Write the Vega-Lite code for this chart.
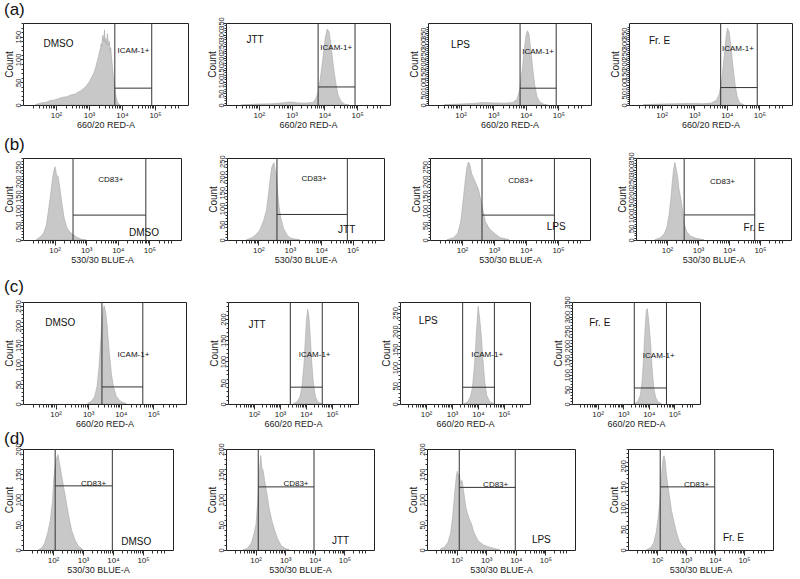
{
"$schema":"https://vega.github.io/schema/vega-lite/v6.json",
"background":"white",
"padding":{"left":3,"top":0,"right":0,"bottom":0},
"spacing":12,
"datasets":{
"hist":[
{"p":"a1","x":24,"c":1},{"p":"a1","x":30,"c":3},{"p":"a1","x":38,"c":5},{"p":"a1","x":50,"c":6},{"p":"a1","x":68,"c":10},{"p":"a1","x":90,"c":11},{"p":"a1","x":121,"c":14},{"p":"a1","x":160,"c":17},{"p":"a1","x":215,"c":18},{"p":"a1","x":280,"c":22},{"p":"a1","x":380,"c":24},{"p":"a1","x":460,"c":28},{"p":"a1","x":557,"c":31},{"p":"a1","x":680,"c":36},{"p":"a1","x":817,"c":41},{"p":"a1","x":1000,"c":50},{"p":"a1","x":1195,"c":61},{"p":"a1","x":1400,"c":70},{"p":"a1","x":1590,"c":82},{"p":"a1","x":1760,"c":95},{"p":"a1","x":1930,"c":106},{"p":"a1","x":2100,"c":118},{"p":"a1","x":2250,"c":126},{"p":"a1","x":2340,"c":135},{"p":"a1","x":2450,"c":128},{"p":"a1","x":2560,"c":150},{"p":"a1","x":2670,"c":153},{"p":"a1","x":2800,"c":140},{"p":"a1","x":2940,"c":165},{"p":"a1","x":3100,"c":138},{"p":"a1","x":3240,"c":146},{"p":"a1","x":3400,"c":132},{"p":"a1","x":3630,"c":157},{"p":"a1","x":3900,"c":130},{"p":"a1","x":4140,"c":140},{"p":"a1","x":4350,"c":118},{"p":"a1","x":4570,"c":126},{"p":"a1","x":4800,"c":105},{"p":"a1","x":5030,"c":92},{"p":"a1","x":5400,"c":68},{"p":"a1","x":5760,"c":51},{"p":"a1","x":6200,"c":30},{"p":"a1","x":6650,"c":17},{"p":"a1","x":7200,"c":8},{"p":"a1","x":7770,"c":3},{"p":"a1","x":8870,"c":0},
{"p":"a2","x":29,"c":0},{"p":"a2","x":91,"c":4},{"p":"a2","x":237,"c":5},{"p":"a2","x":511,"c":9},{"p":"a2","x":908,"c":13},{"p":"a2","x":1615,"c":9},{"p":"a2","x":2870,"c":8},{"p":"a2","x":4640,"c":12},{"p":"a2","x":5620,"c":30},{"p":"a2","x":6430,"c":57},{"p":"a2","x":7500,"c":111},{"p":"a2","x":9090,"c":205},{"p":"a2","x":10600,"c":286},{"p":"a2","x":12100,"c":324},{"p":"a2","x":13900,"c":313},{"p":"a2","x":16200,"c":246},{"p":"a2","x":18800,"c":165},{"p":"a2","x":22000,"c":97},{"p":"a2","x":26100,"c":43},{"p":"a2","x":31600,"c":16},{"p":"a2","x":42200,"c":3},{"p":"a2","x":56200,"c":0},
{"p":"a3","x":32,"c":1.5},{"p":"a3","x":91,"c":4.5},{"p":"a3","x":234,"c":7.5},{"p":"a3","x":500,"c":12},{"p":"a3","x":1060,"c":10},{"p":"a3","x":2270,"c":9},{"p":"a3","x":3980,"c":12},{"p":"a3","x":5320,"c":27},{"p":"a3","x":6430,"c":72},{"p":"a3","x":7770,"c":170},{"p":"a3","x":9040,"c":275},{"p":"a3","x":10300,"c":345},{"p":"a3","x":11300,"c":362},{"p":"a3","x":12500,"c":345},{"p":"a3","x":14500,"c":260},{"p":"a3","x":16500,"c":170},{"p":"a3","x":18900,"c":95},{"p":"a3","x":22000,"c":42},{"p":"a3","x":26500,"c":16},{"p":"a3","x":35200,"c":4},{"p":"a3","x":46800,"c":0},
{"p":"a4","x":28,"c":1.5},{"p":"a4","x":87,"c":4.6},{"p":"a4","x":276,"c":6.2},{"p":"a4","x":870,"c":7.8},{"p":"a4","x":1870,"c":6.2},{"p":"a4","x":3310,"c":9.3},{"p":"a4","x":4860,"c":23},{"p":"a4","x":5890,"c":54},{"p":"a4","x":7140,"c":132},{"p":"a4","x":8320,"c":240},{"p":"a4","x":9510,"c":333},{"p":"a4","x":10470,"c":375},{"p":"a4","x":11740,"c":357},{"p":"a4","x":13400,"c":287},{"p":"a4","x":15300,"c":194},{"p":"a4","x":17900,"c":101},{"p":"a4","x":20900,"c":39},{"p":"a4","x":24800,"c":11},{"p":"a4","x":33000,"c":1.5},
{"p":"b1","x":27,"c":2},{"p":"b1","x":37,"c":13},{"p":"b1","x":45,"c":24},{"p":"b1","x":55,"c":51},{"p":"b1","x":63,"c":96},{"p":"b1","x":74,"c":151},{"p":"b1","x":85,"c":206},{"p":"b1","x":96,"c":240},{"p":"b1","x":104,"c":250},{"p":"b1","x":115,"c":222},{"p":"b1","x":130,"c":216},{"p":"b1","x":149,"c":172},{"p":"b1","x":172,"c":122},{"p":"b1","x":201,"c":74},{"p":"b1","x":246,"c":41},{"p":"b1","x":300,"c":27},{"p":"b1","x":383,"c":19},{"p":"b1","x":496,"c":10},{"p":"b1","x":670,"c":3},{"p":"b1","x":1000,"c":0},
{"p":"b2","x":42,"c":1},{"p":"b2","x":62,"c":7},{"p":"b2","x":82,"c":16},{"p":"b2","x":110,"c":31},{"p":"b2","x":147,"c":62},{"p":"b2","x":180,"c":94},{"p":"b2","x":210,"c":146},{"p":"b2","x":240,"c":198},{"p":"b2","x":265,"c":229},{"p":"b2","x":292,"c":240},{"p":"b2","x":315,"c":245},{"p":"b2","x":340,"c":224},{"p":"b2","x":376,"c":203},{"p":"b2","x":414,"c":146},{"p":"b2","x":457,"c":104},{"p":"b2","x":523,"c":68},{"p":"b2","x":636,"c":36},{"p":"b2","x":850,"c":13},{"p":"b2","x":1140,"c":5},{"p":"b2","x":2040,"c":1},
{"p":"b3","x":34,"c":1},{"p":"b3","x":55,"c":8},{"p":"b3","x":74,"c":24},{"p":"b3","x":91,"c":62},{"p":"b3","x":110,"c":140},{"p":"b3","x":127,"c":205},{"p":"b3","x":143,"c":250},{"p":"b3","x":157,"c":266},{"p":"b3","x":174,"c":260},{"p":"b3","x":199,"c":227},{"p":"b3","x":243,"c":206},{"p":"b3","x":327,"c":173},{"p":"b3","x":422,"c":118},{"p":"b3","x":535,"c":63},{"p":"b3","x":720,"c":38},{"p":"b3","x":1070,"c":21},{"p":"b3","x":1590,"c":8},{"p":"b3","x":2870,"c":2},
{"p":"b4","x":41,"c":1.4},{"p":"b4","x":61,"c":10},{"p":"b4","x":82,"c":27},{"p":"b4","x":100,"c":55},{"p":"b4","x":117,"c":109},{"p":"b4","x":134,"c":178},{"p":"b4","x":148,"c":246},{"p":"b4","x":163,"c":301},{"p":"b4","x":180,"c":331},{"p":"b4","x":199,"c":301},{"p":"b4","x":219,"c":273},{"p":"b4","x":242,"c":219},{"p":"b4","x":278,"c":178},{"p":"b4","x":312,"c":137},{"p":"b4","x":358,"c":68},{"p":"b4","x":436,"c":34},{"p":"b4","x":585,"c":16},{"p":"b4","x":867,"c":7},{"p":"b4","x":1560,"c":1.4},
{"p":"c1","x":956,"c":1},{"p":"c1","x":1300,"c":8},{"p":"c1","x":1590,"c":20},{"p":"c1","x":1870,"c":45},{"p":"c1","x":2150,"c":94},{"p":"c1","x":2380,"c":152},{"p":"c1","x":2640,"c":205},{"p":"c1","x":2860,"c":238},{"p":"c1","x":3100,"c":250},{"p":"c1","x":3430,"c":234},{"p":"c1","x":3790,"c":201},{"p":"c1","x":4370,"c":135},{"p":"c1","x":5140,"c":78},{"p":"c1","x":5910,"c":45},{"p":"c1","x":7240,"c":20},{"p":"c1","x":9780,"c":6.5},{"p":"c1","x":14700,"c":1},
{"p":"c2","x":3340,"c":1},{"p":"c2","x":4700,"c":6},{"p":"c2","x":5890,"c":17.5},{"p":"c2","x":7070,"c":44},{"p":"c2","x":8270,"c":90},{"p":"c2","x":9260,"c":143},{"p":"c2","x":10380,"c":196},{"p":"c2","x":11620,"c":223},{"p":"c2","x":13000,"c":204},{"p":"c2","x":14570,"c":158},{"p":"c2","x":16310,"c":105},{"p":"c2","x":19070,"c":52},{"p":"c2","x":22900,"c":17.5},{"p":"c2","x":28700,"c":4.6},{"p":"c2","x":40400,"c":1},
{"p":"c3","x":2880,"c":1},{"p":"c3","x":4060,"c":6},{"p":"c3","x":5110,"c":20},{"p":"c3","x":6130,"c":46},{"p":"c3","x":7190,"c":100},{"p":"c3","x":8070,"c":154},{"p":"c3","x":9040,"c":216},{"p":"c3","x":10140,"c":268},{"p":"c3","x":11640,"c":234},{"p":"c3","x":13350,"c":189},{"p":"c3","x":15300,"c":127},{"p":"c3","x":17960,"c":64},{"p":"c3","x":21600,"c":24},{"p":"c3","x":28400,"c":6},{"p":"c3","x":40000,"c":1},
{"p":"c4","x":2580,"c":1},{"p":"c4","x":3680,"c":8},{"p":"c4","x":4660,"c":30},{"p":"c4","x":5500,"c":79},{"p":"c4","x":6330,"c":167},{"p":"c4","x":7120,"c":255},{"p":"c4","x":8010,"c":321},{"p":"c4","x":8800,"c":327},{"p":"c4","x":10140,"c":277},{"p":"c4","x":11690,"c":211},{"p":"c4","x":13460,"c":123},{"p":"c4","x":15500,"c":57},{"p":"c4","x":18300,"c":24},{"p":"c4","x":22600,"c":8},{"p":"c4","x":30700,"c":1},
{"p":"d1","x":33,"c":0.6},{"p":"d1","x":43,"c":4.4},{"p":"d1","x":53,"c":14},{"p":"d1","x":66,"c":33},{"p":"d1","x":81,"c":58},{"p":"d1","x":96,"c":96},{"p":"d1","x":106,"c":140},{"p":"d1","x":118,"c":166},{"p":"d1","x":132,"c":182},{"p":"d1","x":146,"c":189},{"p":"d1","x":162,"c":175},{"p":"d1","x":188,"c":152},{"p":"d1","x":223,"c":127},{"p":"d1","x":275,"c":96},{"p":"d1","x":339,"c":65},{"p":"d1","x":418,"c":39},{"p":"d1","x":539,"c":20},{"p":"d1","x":709,"c":7.6},{"p":"d1","x":973,"c":1.3},
{"p":"d2","x":39,"c":0.6},{"p":"d2","x":53,"c":3},{"p":"d2","x":73,"c":15},{"p":"d2","x":90,"c":34},{"p":"d2","x":104,"c":52},{"p":"d2","x":118,"c":96},{"p":"d2","x":129,"c":139},{"p":"d2","x":140,"c":170},{"p":"d2","x":149,"c":187},{"p":"d2","x":162,"c":164},{"p":"d2","x":180,"c":157},{"p":"d2","x":208,"c":133},{"p":"d2","x":246,"c":108},{"p":"d2","x":285,"c":83},{"p":"d2","x":351,"c":59},{"p":"d2","x":433,"c":40},{"p":"d2","x":556,"c":22},{"p":"d2","x":730,"c":9},{"p":"d2","x":1000,"c":3},{"p":"d2","x":1370,"c":0.6},
{"p":"d3","x":28.5,"c":2},{"p":"d3","x":39,"c":6},{"p":"d3","x":51,"c":15},{"p":"d3","x":63,"c":34},{"p":"d3","x":73,"c":64},{"p":"d3","x":81,"c":95},{"p":"d3","x":90,"c":125},{"p":"d3","x":100,"c":150},{"p":"d3","x":106,"c":156},{"p":"d3","x":116,"c":144},{"p":"d3","x":123,"c":150},{"p":"d3","x":137,"c":132},{"p":"d3","x":152,"c":138},{"p":"d3","x":176,"c":113},{"p":"d3","x":208,"c":83},{"p":"d3","x":257,"c":64},{"p":"d3","x":316,"c":52},{"p":"d3","x":390,"c":34},{"p":"d3","x":534,"c":18},{"p":"d3","x":811,"c":10},{"p":"d3","x":1230,"c":6},{"p":"d3","x":1870,"c":3},{"p":"d3","x":2850,"c":0.6},
{"p":"d4","x":43,"c":0.7},{"p":"d4","x":59,"c":5},{"p":"d4","x":76,"c":16},{"p":"d4","x":94,"c":42},{"p":"d4","x":111,"c":79},{"p":"d4","x":126,"c":116},{"p":"d4","x":137,"c":161},{"p":"d4","x":152,"c":199},{"p":"d4","x":165,"c":221},{"p":"d4","x":176,"c":224},{"p":"d4","x":191,"c":212},{"p":"d4","x":208,"c":183},{"p":"d4","x":236,"c":153},{"p":"d4","x":273,"c":124},{"p":"d4","x":316,"c":94},{"p":"d4","x":390,"c":65},{"p":"d4","x":480,"c":39},{"p":"d4","x":593,"c":20},{"p":"d4","x":762,"c":7},{"p":"d4","x":1000,"c":1.5}
],
"gates":[
{"p":"a1","x1":6060,"x2":79700,"gy":37,"gl":"ICAM-1+","gx":7350,"gly":119,"s":"DMSO","sx":42,"sy":134},
{"p":"a2","x1":6430,"x2":85800,"gy":77,"gl":"ICAM-1+","gx":7500,"gly":242,"s":"JTT","sx":42,"sy":276},
{"p":"a3","x1":6670,"x2":85700,"gy":82,"gl":"ICAM-1+","gx":7770,"gly":260,"s":"LPS","sx":51,"sy":292},
{"p":"a4","x1":6490,"x2":85900,"gy":85,"gl":"ICAM-1+","gx":7140,"gly":271,"s":"Fr. E","sx":41,"sy":310},
{"p":"b1","x1":383,"x2":77000,"gy":85,"gl":"CD83+","gx":6030,"gly":206,"s":"DMSO","sx":200000,"sy":24},
{"p":"b2","x1":390,"x2":68000,"gy":81,"gl":"CD83+","gx":5960,"gly":192,"s":"JTT","sx":122000,"sy":33},
{"p":"b3","x1":422,"x2":77300,"gy":85,"gl":"CD83+","gx":6900,"gly":200,"s":"LPS","sx":174000,"sy":43},
{"p":"b4","x1":358,"x2":67600,"gy":107,"gl":"CD83+","gx":6160,"gly":249,"s":"Fr. E","sx":142000,"sy":52},
{"p":"c1","x1":2640,"x2":47300,"gy":43.5,"gl":"ICAM-1+","gx":24500,"gly":125,"s":"DMSO","sx":48,"sy":207},
{"p":"c2","x1":2490,"x2":42200,"gy":39.6,"gl":"ICAM-1+","gx":21500,"gly":116,"s":"JTT","sx":61,"sy":185},
{"p":"c3","x1":2570,"x2":42700,"gy":46,"gl":"ICAM-1+","gx":22500,"gly":134,"s":"LPS","sx":53,"sy":227},
{"p":"c4","x1":2710,"x2":49000,"gy":55,"gl":"ICAM-1+","gx":24500,"gly":165,"s":"Fr. E","sx":47,"sy":279},
{"p":"d1","x1":118,"x2":9500,"gy":127,"gl":"CD83+","gx":2260,"gly":131,"s":"DMSO","sx":188000,"sy":15},
{"p":"d2","x1":123,"x2":9400,"gy":125,"gl":"CD83+","gx":2310,"gly":130,"s":"JTT","sx":145000,"sy":17},
{"p":"d3","x1":123,"x2":9600,"gy":124,"gl":"CD83+","gx":2090,"gly":128,"s":"LPS","sx":152000,"sy":20},
{"p":"d4","x1":129,"x2":9800,"gy":150,"gl":"CD83+","gx":2310,"gly":155,"s":"Fr. E","sx":100000,"sy":29}
]
},
"vconcat":[
{"spacing":5,"vconcat":[
{"spacing":38,"bounds":"flush","hconcat":[
{"width":165,"height":82,"title":"(a)","layer":[
{"data":{"name":"hist"},"transform":[{"filter":"datum.p==='a1'"}],"mark":{"type":"area","clip":true,"color":"#c8c8c8","stroke":"#a8a8a8","strokeWidth":0.6},"encoding":{"x":{"field":"x","type":"quantitative","scale":{"type":"log","domain":[25,300000]},"axis":{"title":"660/20 RED-A","tickCount":200,"values":[20,30,40,50,60,70,80,90,100,200,300,400,500,600,700,800,900,1000,2000,3000,4000,5000,6000,7000,8000,9000,10000,20000,30000,40000,50000,60000,70000,80000,90000,100000,200000,300000,400000,500000],"labelExpr":"datum.value==100?'10²':datum.value==1000?'10³':datum.value==10000?'10⁴':datum.value==100000?'10⁵':''","tickSize":{"condition":{"test":"indexof([100,1000,10000,100000],datum.value)>=0","value":5},"value":3}}},"y":{"field":"c","type":"quantitative","scale":{"domain":[0,167]},"axis":{"title":"Count","tickCount":200,"values":[0,10,20,30,40,50,60,70,80,90,100,110,120,130,140,150,160,170,180,190,200,210,220,230,240,250,260,270,280,290,300,310,320,330,340,350,360,370,380],"labelExpr":"datum.value%50===0?datum.label:''","tickSize":{"condition":{"test":"datum.value%50===0","value":3},"value":2}}}}},
{"data":{"name":"gates"},"transform":[{"filter":"datum.p==='a1'"}],"layer":[
{"mark":"rule","encoding":{"x":{"field":"x1","type":"quantitative"}}},
{"mark":"rule","encoding":{"x":{"field":"x2","type":"quantitative"}}},
{"mark":"rule","encoding":{"x":{"field":"x1","type":"quantitative"},"x2":{"field":"x2"},"y":{"field":"gy","type":"quantitative"}}},
{"mark":{"type":"text","align":"left","fontSize":8},"encoding":{"x":{"field":"gx","type":"quantitative"},"y":{"field":"gly","type":"quantitative"},"text":{"field":"gl"}}},
{"mark":{"type":"text","align":"left","fontSize":10},"encoding":{"x":{"field":"sx","type":"quantitative"},"y":{"field":"sy","type":"quantitative"},"text":{"field":"s"}}}
]}]},
{"width":164,"height":82,"layer":[
{"data":{"name":"hist"},"transform":[{"filter":"datum.p==='a2'"}],"mark":{"type":"area","clip":true,"color":"#c8c8c8","stroke":"#a8a8a8","strokeWidth":0.6},"encoding":{"x":{"field":"x","type":"quantitative","scale":{"type":"log","domain":[25,300000]},"axis":{"title":"660/20 RED-A","tickCount":200,"values":[20,30,40,50,60,70,80,90,100,200,300,400,500,600,700,800,900,1000,2000,3000,4000,5000,6000,7000,8000,9000,10000,20000,30000,40000,50000,60000,70000,80000,90000,100000,200000,300000,400000,500000],"labelExpr":"datum.value==100?'10²':datum.value==1000?'10³':datum.value==10000?'10⁴':datum.value==100000?'10⁵':''","tickSize":{"condition":{"test":"indexof([100,1000,10000,100000],datum.value)>=0","value":5},"value":3}}},"y":{"field":"c","type":"quantitative","scale":{"domain":[0,336]},"axis":{"title":"Count","tickCount":200,"values":[0,10,20,30,40,50,60,70,80,90,100,110,120,130,140,150,160,170,180,190,200,210,220,230,240,250,260,270,280,290,300,310,320,330,340,350,360,370,380],"labelExpr":"datum.value%50===0?datum.label:''","tickSize":{"condition":{"test":"datum.value%50===0","value":3},"value":2}}}}},
{"data":{"name":"gates"},"transform":[{"filter":"datum.p==='a2'"}],"layer":[
{"mark":"rule","encoding":{"x":{"field":"x1","type":"quantitative"}}},
{"mark":"rule","encoding":{"x":{"field":"x2","type":"quantitative"}}},
{"mark":"rule","encoding":{"x":{"field":"x1","type":"quantitative"},"x2":{"field":"x2"},"y":{"field":"gy","type":"quantitative"}}},
{"mark":{"type":"text","align":"left","fontSize":8},"encoding":{"x":{"field":"gx","type":"quantitative"},"y":{"field":"gly","type":"quantitative"},"text":{"field":"gl"}}},
{"mark":{"type":"text","align":"left","fontSize":10},"encoding":{"x":{"field":"sx","type":"quantitative"},"y":{"field":"sy","type":"quantitative"},"text":{"field":"s"}}}
]}]},
{"width":163,"height":82,"layer":[
{"data":{"name":"hist"},"transform":[{"filter":"datum.p==='a3'"}],"mark":{"type":"area","clip":true,"color":"#c8c8c8","stroke":"#a8a8a8","strokeWidth":0.6},"encoding":{"x":{"field":"x","type":"quantitative","scale":{"type":"log","domain":[25,300000]},"axis":{"title":"660/20 RED-A","tickCount":200,"values":[20,30,40,50,60,70,80,90,100,200,300,400,500,600,700,800,900,1000,2000,3000,4000,5000,6000,7000,8000,9000,10000,20000,30000,40000,50000,60000,70000,80000,90000,100000,200000,300000,400000,500000],"labelExpr":"datum.value==100?'10²':datum.value==1000?'10³':datum.value==10000?'10⁴':datum.value==100000?'10⁵':''","tickSize":{"condition":{"test":"indexof([100,1000,10000,100000],datum.value)>=0","value":5},"value":3}}},"y":{"field":"c","type":"quantitative","scale":{"domain":[0,368]},"axis":{"title":"Count","tickCount":200,"values":[0,10,20,30,40,50,60,70,80,90,100,110,120,130,140,150,160,170,180,190,200,210,220,230,240,250,260,270,280,290,300,310,320,330,340,350,360,370,380],"labelExpr":"datum.value%50===0?datum.label:''","tickSize":{"condition":{"test":"datum.value%50===0","value":3},"value":2}}}}},
{"data":{"name":"gates"},"transform":[{"filter":"datum.p==='a3'"}],"layer":[
{"mark":"rule","encoding":{"x":{"field":"x1","type":"quantitative"}}},
{"mark":"rule","encoding":{"x":{"field":"x2","type":"quantitative"}}},
{"mark":"rule","encoding":{"x":{"field":"x1","type":"quantitative"},"x2":{"field":"x2"},"y":{"field":"gy","type":"quantitative"}}},
{"mark":{"type":"text","align":"left","fontSize":8},"encoding":{"x":{"field":"gx","type":"quantitative"},"y":{"field":"gly","type":"quantitative"},"text":{"field":"gl"}}},
{"mark":{"type":"text","align":"left","fontSize":10},"encoding":{"x":{"field":"sx","type":"quantitative"},"y":{"field":"sy","type":"quantitative"},"text":{"field":"s"}}}
]}]},
{"width":163,"height":82,"layer":[
{"data":{"name":"hist"},"transform":[{"filter":"datum.p==='a4'"}],"mark":{"type":"area","clip":true,"color":"#c8c8c8","stroke":"#a8a8a8","strokeWidth":0.6},"encoding":{"x":{"field":"x","type":"quantitative","scale":{"type":"log","domain":[25,300000]},"axis":{"title":"660/20 RED-A","tickCount":200,"values":[20,30,40,50,60,70,80,90,100,200,300,400,500,600,700,800,900,1000,2000,3000,4000,5000,6000,7000,8000,9000,10000,20000,30000,40000,50000,60000,70000,80000,90000,100000,200000,300000,400000,500000],"labelExpr":"datum.value==100?'10²':datum.value==1000?'10³':datum.value==10000?'10⁴':datum.value==100000?'10⁵':''","tickSize":{"condition":{"test":"indexof([100,1000,10000,100000],datum.value)>=0","value":5},"value":3}}},"y":{"field":"c","type":"quantitative","scale":{"domain":[0,380]},"axis":{"title":"Count","tickCount":200,"values":[0,10,20,30,40,50,60,70,80,90,100,110,120,130,140,150,160,170,180,190,200,210,220,230,240,250,260,270,280,290,300,310,320,330,340,350,360,370,380],"labelExpr":"datum.value%50===0?datum.label:''","tickSize":{"condition":{"test":"datum.value%50===0","value":3},"value":2}}}}},
{"data":{"name":"gates"},"transform":[{"filter":"datum.p==='a4'"}],"layer":[
{"mark":"rule","encoding":{"x":{"field":"x1","type":"quantitative"}}},
{"mark":"rule","encoding":{"x":{"field":"x2","type":"quantitative"}}},
{"mark":"rule","encoding":{"x":{"field":"x1","type":"quantitative"},"x2":{"field":"x2"},"y":{"field":"gy","type":"quantitative"}}},
{"mark":{"type":"text","align":"left","fontSize":8},"encoding":{"x":{"field":"gx","type":"quantitative"},"y":{"field":"gly","type":"quantitative"},"text":{"field":"gl"}}},
{"mark":{"type":"text","align":"left","fontSize":10},"encoding":{"x":{"field":"sx","type":"quantitative"},"y":{"field":"sy","type":"quantitative"},"text":{"field":"s"}}}
]}]}
]},
{"spacing":46,"bounds":"flush","hconcat":[
{"width":158,"height":82,"title":"(b)","layer":[
{"data":{"name":"hist"},"transform":[{"filter":"datum.p==='b1'"}],"mark":{"type":"area","clip":true,"color":"#c8c8c8","stroke":"#a8a8a8","strokeWidth":0.6},"encoding":{"x":{"field":"x","type":"quantitative","scale":{"type":"log","domain":[26,262144]},"axis":{"title":"530/30 BLUE-A","tickCount":200,"values":[20,30,40,50,60,70,80,90,100,200,300,400,500,600,700,800,900,1000,2000,3000,4000,5000,6000,7000,8000,9000,10000,20000,30000,40000,50000,60000,70000,80000,90000,100000,200000,300000,400000,500000],"labelExpr":"datum.value==100?'10²':datum.value==1000?'10³':datum.value==10000?'10⁴':datum.value==100000?'10⁵':''","tickSize":{"condition":{"test":"indexof([100,1000,10000,100000],datum.value)>=0","value":5},"value":3}}},"y":{"field":"c","type":"quantitative","scale":{"domain":[0,270]},"axis":{"title":"Count","tickCount":200,"values":[0,10,20,30,40,50,60,70,80,90,100,110,120,130,140,150,160,170,180,190,200,210,220,230,240,250,260,270,280,290,300,310,320,330,340,350,360,370,380],"labelExpr":"datum.value%50===0?datum.label:''","tickSize":{"condition":{"test":"datum.value%50===0","value":3},"value":2}}}}},
{"data":{"name":"gates"},"transform":[{"filter":"datum.p==='b1'"}],"layer":[
{"mark":"rule","encoding":{"x":{"field":"x1","type":"quantitative"}}},
{"mark":"rule","encoding":{"x":{"field":"x2","type":"quantitative"}}},
{"mark":"rule","encoding":{"x":{"field":"x1","type":"quantitative"},"x2":{"field":"x2"},"y":{"field":"gy","type":"quantitative"}}},
{"mark":{"type":"text","align":"center","fontSize":8},"encoding":{"x":{"field":"gx","type":"quantitative"},"y":{"field":"gly","type":"quantitative"},"text":{"field":"gl"}}},
{"mark":{"type":"text","align":"right","fontSize":10},"encoding":{"x":{"field":"sx","type":"quantitative"},"y":{"field":"sy","type":"quantitative"},"text":{"field":"s"}}}
]}]},
{"width":157,"height":82,"layer":[
{"data":{"name":"hist"},"transform":[{"filter":"datum.p==='b2'"}],"mark":{"type":"area","clip":true,"color":"#c8c8c8","stroke":"#a8a8a8","strokeWidth":0.6},"encoding":{"x":{"field":"x","type":"quantitative","scale":{"type":"log","domain":[26,262144]},"axis":{"title":"530/30 BLUE-A","tickCount":200,"values":[20,30,40,50,60,70,80,90,100,200,300,400,500,600,700,800,900,1000,2000,3000,4000,5000,6000,7000,8000,9000,10000,20000,30000,40000,50000,60000,70000,80000,90000,100000,200000,300000,400000,500000],"labelExpr":"datum.value==100?'10²':datum.value==1000?'10³':datum.value==10000?'10⁴':datum.value==100000?'10⁵':''","tickSize":{"condition":{"test":"indexof([100,1000,10000,100000],datum.value)>=0","value":5},"value":3}}},"y":{"field":"c","type":"quantitative","scale":{"domain":[0,258]},"axis":{"title":"Count","tickCount":200,"values":[0,10,20,30,40,50,60,70,80,90,100,110,120,130,140,150,160,170,180,190,200,210,220,230,240,250,260,270,280,290,300,310,320,330,340,350,360,370,380],"labelExpr":"datum.value%50===0?datum.label:''","tickSize":{"condition":{"test":"datum.value%50===0","value":3},"value":2}}}}},
{"data":{"name":"gates"},"transform":[{"filter":"datum.p==='b2'"}],"layer":[
{"mark":"rule","encoding":{"x":{"field":"x1","type":"quantitative"}}},
{"mark":"rule","encoding":{"x":{"field":"x2","type":"quantitative"}}},
{"mark":"rule","encoding":{"x":{"field":"x1","type":"quantitative"},"x2":{"field":"x2"},"y":{"field":"gy","type":"quantitative"}}},
{"mark":{"type":"text","align":"center","fontSize":8},"encoding":{"x":{"field":"gx","type":"quantitative"},"y":{"field":"gly","type":"quantitative"},"text":{"field":"gl"}}},
{"mark":{"type":"text","align":"right","fontSize":10},"encoding":{"x":{"field":"sx","type":"quantitative"},"y":{"field":"sy","type":"quantitative"},"text":{"field":"s"}}}
]}]},
{"width":160,"height":82,"layer":[
{"data":{"name":"hist"},"transform":[{"filter":"datum.p==='b3'"}],"mark":{"type":"area","clip":true,"color":"#c8c8c8","stroke":"#a8a8a8","strokeWidth":0.6},"encoding":{"x":{"field":"x","type":"quantitative","scale":{"type":"log","domain":[26,262144]},"axis":{"title":"530/30 BLUE-A","tickCount":200,"values":[20,30,40,50,60,70,80,90,100,200,300,400,500,600,700,800,900,1000,2000,3000,4000,5000,6000,7000,8000,9000,10000,20000,30000,40000,50000,60000,70000,80000,90000,100000,200000,300000,400000,500000],"labelExpr":"datum.value==100?'10²':datum.value==1000?'10³':datum.value==10000?'10⁴':datum.value==100000?'10⁵':''","tickSize":{"condition":{"test":"indexof([100,1000,10000,100000],datum.value)>=0","value":5},"value":3}}},"y":{"field":"c","type":"quantitative","scale":{"domain":[0,270]},"axis":{"title":"Count","tickCount":200,"values":[0,10,20,30,40,50,60,70,80,90,100,110,120,130,140,150,160,170,180,190,200,210,220,230,240,250,260,270,280,290,300,310,320,330,340,350,360,370,380],"labelExpr":"datum.value%50===0?datum.label:''","tickSize":{"condition":{"test":"datum.value%50===0","value":3},"value":2}}}}},
{"data":{"name":"gates"},"transform":[{"filter":"datum.p==='b3'"}],"layer":[
{"mark":"rule","encoding":{"x":{"field":"x1","type":"quantitative"}}},
{"mark":"rule","encoding":{"x":{"field":"x2","type":"quantitative"}}},
{"mark":"rule","encoding":{"x":{"field":"x1","type":"quantitative"},"x2":{"field":"x2"},"y":{"field":"gy","type":"quantitative"}}},
{"mark":{"type":"text","align":"center","fontSize":8},"encoding":{"x":{"field":"gx","type":"quantitative"},"y":{"field":"gly","type":"quantitative"},"text":{"field":"gl"}}},
{"mark":{"type":"text","align":"right","fontSize":10},"encoding":{"x":{"field":"sx","type":"quantitative"},"y":{"field":"sy","type":"quantitative"},"text":{"field":"s"}}}
]}]},
{"width":155,"height":82,"layer":[
{"data":{"name":"hist"},"transform":[{"filter":"datum.p==='b4'"}],"mark":{"type":"area","clip":true,"color":"#c8c8c8","stroke":"#a8a8a8","strokeWidth":0.6},"encoding":{"x":{"field":"x","type":"quantitative","scale":{"type":"log","domain":[26,262144]},"axis":{"title":"530/30 BLUE-A","tickCount":200,"values":[20,30,40,50,60,70,80,90,100,200,300,400,500,600,700,800,900,1000,2000,3000,4000,5000,6000,7000,8000,9000,10000,20000,30000,40000,50000,60000,70000,80000,90000,100000,200000,300000,400000,500000],"labelExpr":"datum.value==100?'10²':datum.value==1000?'10³':datum.value==10000?'10⁴':datum.value==100000?'10⁵':''","tickSize":{"condition":{"test":"indexof([100,1000,10000,100000],datum.value)>=0","value":5},"value":3}}},"y":{"field":"c","type":"quantitative","scale":{"domain":[0,339]},"axis":{"title":"Count","tickCount":200,"values":[0,10,20,30,40,50,60,70,80,90,100,110,120,130,140,150,160,170,180,190,200,210,220,230,240,250,260,270,280,290,300,310,320,330,340,350,360,370,380],"labelExpr":"datum.value%50===0?datum.label:''","tickSize":{"condition":{"test":"datum.value%50===0","value":3},"value":2}}}}},
{"data":{"name":"gates"},"transform":[{"filter":"datum.p==='b4'"}],"layer":[
{"mark":"rule","encoding":{"x":{"field":"x1","type":"quantitative"}}},
{"mark":"rule","encoding":{"x":{"field":"x2","type":"quantitative"}}},
{"mark":"rule","encoding":{"x":{"field":"x1","type":"quantitative"},"x2":{"field":"x2"},"y":{"field":"gy","type":"quantitative"}}},
{"mark":{"type":"text","align":"center","fontSize":8},"encoding":{"x":{"field":"gx","type":"quantitative"},"y":{"field":"gly","type":"quantitative"},"text":{"field":"gl"}}},
{"mark":{"type":"text","align":"right","fontSize":10},"encoding":{"x":{"field":"sx","type":"quantitative"},"y":{"field":"sy","type":"quantitative"},"text":{"field":"s"}}}
]}]}
]}
]},
{"spacing":0,"vconcat":[
{"spacing":42,"bounds":"flush","hconcat":[
{"width":163,"height":102,"title":"(c)","layer":[
{"data":{"name":"hist"},"transform":[{"filter":"datum.p==='c1'"}],"mark":{"type":"area","clip":true,"color":"#c8c8c8","stroke":"#a8a8a8","strokeWidth":0.6},"encoding":{"x":{"field":"x","type":"quantitative","scale":{"type":"log","domain":[31,560000]},"axis":{"title":"660/20 RED-A","tickCount":200,"values":[20,30,40,50,60,70,80,90,100,200,300,400,500,600,700,800,900,1000,2000,3000,4000,5000,6000,7000,8000,9000,10000,20000,30000,40000,50000,60000,70000,80000,90000,100000,200000,300000,400000,500000],"labelExpr":"datum.value==100?'10²':datum.value==1000?'10³':datum.value==10000?'10⁴':datum.value==100000?'10⁵':''","tickSize":{"condition":{"test":"indexof([100,1000,10000,100000],datum.value)>=0","value":5},"value":3}}},"y":{"field":"c","type":"quantitative","scale":{"domain":[0,253]},"axis":{"title":"Count","tickCount":200,"values":[0,10,20,30,40,50,60,70,80,90,100,110,120,130,140,150,160,170,180,190,200,210,220,230,240,250,260,270,280,290,300,310,320,330,340,350,360,370,380],"labelExpr":"datum.value%50===0?datum.label:''","tickSize":{"condition":{"test":"datum.value%50===0","value":3},"value":2}}}}},
{"data":{"name":"gates"},"transform":[{"filter":"datum.p==='c1'"}],"layer":[
{"mark":"rule","encoding":{"x":{"field":"x1","type":"quantitative"}}},
{"mark":"rule","encoding":{"x":{"field":"x2","type":"quantitative"}}},
{"mark":"rule","encoding":{"x":{"field":"x1","type":"quantitative"},"x2":{"field":"x2"},"y":{"field":"gy","type":"quantitative"}}},
{"mark":{"type":"text","align":"center","fontSize":8},"encoding":{"x":{"field":"gx","type":"quantitative"},"y":{"field":"gly","type":"quantitative"},"text":{"field":"gl"}}},
{"mark":{"type":"text","align":"left","fontSize":10},"encoding":{"x":{"field":"sx","type":"quantitative"},"y":{"field":"sy","type":"quantitative"},"text":{"field":"s"}}}
]}]},
{"width":130,"height":102,"layer":[
{"data":{"name":"hist"},"transform":[{"filter":"datum.p==='c2'"}],"mark":{"type":"area","clip":true,"color":"#c8c8c8","stroke":"#a8a8a8","strokeWidth":0.6},"encoding":{"x":{"field":"x","type":"quantitative","scale":{"type":"log","domain":[30,225000]},"axis":{"title":"660/20 RED-A","tickCount":200,"values":[20,30,40,50,60,70,80,90,100,200,300,400,500,600,700,800,900,1000,2000,3000,4000,5000,6000,7000,8000,9000,10000,20000,30000,40000,50000,60000,70000,80000,90000,100000,200000,300000,400000,500000],"labelExpr":"datum.value==100?'10²':datum.value==1000?'10³':datum.value==10000?'10⁴':datum.value==100000?'10⁵':''","tickSize":{"condition":{"test":"indexof([100,1000,10000,100000],datum.value)>=0","value":5},"value":3}}},"y":{"field":"c","type":"quantitative","scale":{"domain":[0,233]},"axis":{"title":"Count","tickCount":200,"values":[0,10,20,30,40,50,60,70,80,90,100,110,120,130,140,150,160,170,180,190,200,210,220,230,240,250,260,270,280,290,300,310,320,330,340,350,360,370,380],"labelExpr":"datum.value%50===0?datum.label:''","tickSize":{"condition":{"test":"datum.value%50===0","value":3},"value":2}}}}},
{"data":{"name":"gates"},"transform":[{"filter":"datum.p==='c2'"}],"layer":[
{"mark":"rule","encoding":{"x":{"field":"x1","type":"quantitative"}}},
{"mark":"rule","encoding":{"x":{"field":"x2","type":"quantitative"}}},
{"mark":"rule","encoding":{"x":{"field":"x1","type":"quantitative"},"x2":{"field":"x2"},"y":{"field":"gy","type":"quantitative"}}},
{"mark":{"type":"text","align":"center","fontSize":8},"encoding":{"x":{"field":"gx","type":"quantitative"},"y":{"field":"gly","type":"quantitative"},"text":{"field":"gl"}}},
{"mark":{"type":"text","align":"left","fontSize":10},"encoding":{"x":{"field":"sx","type":"quantitative"},"y":{"field":"sy","type":"quantitative"},"text":{"field":"s"}}}
]}]},
{"width":130,"height":102,"layer":[
{"data":{"name":"hist"},"transform":[{"filter":"datum.p==='c3'"}],"mark":{"type":"area","clip":true,"color":"#c8c8c8","stroke":"#a8a8a8","strokeWidth":0.6},"encoding":{"x":{"field":"x","type":"quantitative","scale":{"type":"log","domain":[30,225000]},"axis":{"title":"660/20 RED-A","tickCount":200,"values":[20,30,40,50,60,70,80,90,100,200,300,400,500,600,700,800,900,1000,2000,3000,4000,5000,6000,7000,8000,9000,10000,20000,30000,40000,50000,60000,70000,80000,90000,100000,200000,300000,400000,500000],"labelExpr":"datum.value==100?'10²':datum.value==1000?'10³':datum.value==10000?'10⁴':datum.value==100000?'10⁵':''","tickSize":{"condition":{"test":"indexof([100,1000,10000,100000],datum.value)>=0","value":5},"value":3}}},"y":{"field":"c","type":"quantitative","scale":{"domain":[0,271]},"axis":{"title":"Count","tickCount":200,"values":[0,10,20,30,40,50,60,70,80,90,100,110,120,130,140,150,160,170,180,190,200,210,220,230,240,250,260,270,280,290,300,310,320,330,340,350,360,370,380],"labelExpr":"datum.value%50===0?datum.label:''","tickSize":{"condition":{"test":"datum.value%50===0","value":3},"value":2}}}}},
{"data":{"name":"gates"},"transform":[{"filter":"datum.p==='c3'"}],"layer":[
{"mark":"rule","encoding":{"x":{"field":"x1","type":"quantitative"}}},
{"mark":"rule","encoding":{"x":{"field":"x2","type":"quantitative"}}},
{"mark":"rule","encoding":{"x":{"field":"x1","type":"quantitative"},"x2":{"field":"x2"},"y":{"field":"gy","type":"quantitative"}}},
{"mark":{"type":"text","align":"center","fontSize":8},"encoding":{"x":{"field":"gx","type":"quantitative"},"y":{"field":"gly","type":"quantitative"},"text":{"field":"gl"}}},
{"mark":{"type":"text","align":"left","fontSize":10},"encoding":{"x":{"field":"sx","type":"quantitative"},"y":{"field":"sy","type":"quantitative"},"text":{"field":"s"}}}
]}]},
{"width":128,"height":102,"layer":[
{"data":{"name":"hist"},"transform":[{"filter":"datum.p==='c4'"}],"mark":{"type":"area","clip":true,"color":"#c8c8c8","stroke":"#a8a8a8","strokeWidth":0.6},"encoding":{"x":{"field":"x","type":"quantitative","scale":{"type":"log","domain":[27,230000]},"axis":{"title":"660/20 RED-A","tickCount":200,"values":[20,30,40,50,60,70,80,90,100,200,300,400,500,600,700,800,900,1000,2000,3000,4000,5000,6000,7000,8000,9000,10000,20000,30000,40000,50000,60000,70000,80000,90000,100000,200000,300000,400000,500000],"labelExpr":"datum.value==100?'10²':datum.value==1000?'10³':datum.value==10000?'10⁴':datum.value==100000?'10⁵':''","tickSize":{"condition":{"test":"indexof([100,1000,10000,100000],datum.value)>=0","value":5},"value":3}}},"y":{"field":"c","type":"quantitative","scale":{"domain":[0,335]},"axis":{"title":"Count","tickCount":200,"values":[0,10,20,30,40,50,60,70,80,90,100,110,120,130,140,150,160,170,180,190,200,210,220,230,240,250,260,270,280,290,300,310,320,330,340,350,360,370,380],"labelExpr":"datum.value%50===0?datum.label:''","tickSize":{"condition":{"test":"datum.value%50===0","value":3},"value":2}}}}},
{"data":{"name":"gates"},"transform":[{"filter":"datum.p==='c4'"}],"layer":[
{"mark":"rule","encoding":{"x":{"field":"x1","type":"quantitative"}}},
{"mark":"rule","encoding":{"x":{"field":"x2","type":"quantitative"}}},
{"mark":"rule","encoding":{"x":{"field":"x1","type":"quantitative"},"x2":{"field":"x2"},"y":{"field":"gy","type":"quantitative"}}},
{"mark":{"type":"text","align":"center","fontSize":8},"encoding":{"x":{"field":"gx","type":"quantitative"},"y":{"field":"gly","type":"quantitative"},"text":{"field":"gl"}}},
{"mark":{"type":"text","align":"left","fontSize":10},"encoding":{"x":{"field":"sx","type":"quantitative"},"y":{"field":"sy","type":"quantitative"},"text":{"field":"s"}}}
]}]}
]},
{"spacing":53,"bounds":"flush","hconcat":[
{"width":150,"height":101,"title":{"text":"(d)","offset":-5},"layer":[
{"data":{"name":"hist"},"transform":[{"filter":"datum.p==='d1'"}],"mark":{"type":"area","clip":true,"color":"#c8c8c8","stroke":"#a8a8a8","strokeWidth":0.6},"encoding":{"x":{"field":"x","type":"quantitative","scale":{"type":"log","domain":[24,257000]},"axis":{"title":"530/30 BLUE-A","tickCount":200,"values":[20,30,40,50,60,70,80,90,100,200,300,400,500,600,700,800,900,1000,2000,3000,4000,5000,6000,7000,8000,9000,10000,20000,30000,40000,50000,60000,70000,80000,90000,100000,200000,300000,400000,500000],"labelExpr":"datum.value==100?'10²':datum.value==1000?'10³':datum.value==10000?'10⁴':datum.value==100000?'10⁵':''","tickSize":{"condition":{"test":"indexof([100,1000,10000,100000],datum.value)>=0","value":5},"value":3}}},"y":{"field":"c","type":"quantitative","scale":{"domain":[0,191]},"axis":{"title":"Count","tickCount":200,"values":[0,10,20,30,40,50,60,70,80,90,100,110,120,130,140,150,160,170,180,190,200,210,220,230,240,250,260,270,280,290,300,310,320,330,340,350,360,370,380],"labelExpr":"datum.value%50===0?datum.label:''","tickSize":{"condition":{"test":"datum.value%50===0","value":3},"value":2}}}}},
{"data":{"name":"gates"},"transform":[{"filter":"datum.p==='d1'"}],"layer":[
{"mark":"rule","encoding":{"x":{"field":"x1","type":"quantitative"}}},
{"mark":"rule","encoding":{"x":{"field":"x2","type":"quantitative"}}},
{"mark":"rule","encoding":{"x":{"field":"x1","type":"quantitative"},"x2":{"field":"x2"},"y":{"field":"gy","type":"quantitative"}}},
{"mark":{"type":"text","align":"center","fontSize":8},"encoding":{"x":{"field":"gx","type":"quantitative"},"y":{"field":"gly","type":"quantitative"},"text":{"field":"gl"}}},
{"mark":{"type":"text","align":"right","fontSize":10},"encoding":{"x":{"field":"sx","type":"quantitative"},"y":{"field":"sy","type":"quantitative"},"text":{"field":"s"}}}
]}]},
{"width":148,"height":101,"layer":[
{"data":{"name":"hist"},"transform":[{"filter":"datum.p==='d2'"}],"mark":{"type":"area","clip":true,"color":"#c8c8c8","stroke":"#a8a8a8","strokeWidth":0.6},"encoding":{"x":{"field":"x","type":"quantitative","scale":{"type":"log","domain":[24,257000]},"axis":{"title":"530/30 BLUE-A","tickCount":200,"values":[20,30,40,50,60,70,80,90,100,200,300,400,500,600,700,800,900,1000,2000,3000,4000,5000,6000,7000,8000,9000,10000,20000,30000,40000,50000,60000,70000,80000,90000,100000,200000,300000,400000,500000],"labelExpr":"datum.value==100?'10²':datum.value==1000?'10³':datum.value==10000?'10⁴':datum.value==100000?'10⁵':''","tickSize":{"condition":{"test":"indexof([100,1000,10000,100000],datum.value)>=0","value":5},"value":3}}},"y":{"field":"c","type":"quantitative","scale":{"domain":[0,187]},"axis":{"title":"Count","tickCount":200,"values":[0,10,20,30,40,50,60,70,80,90,100,110,120,130,140,150,160,170,180,190,200,210,220,230,240,250,260,270,280,290,300,310,320,330,340,350,360,370,380],"labelExpr":"datum.value%50===0?datum.label:''","tickSize":{"condition":{"test":"datum.value%50===0","value":3},"value":2}}}}},
{"data":{"name":"gates"},"transform":[{"filter":"datum.p==='d2'"}],"layer":[
{"mark":"rule","encoding":{"x":{"field":"x1","type":"quantitative"}}},
{"mark":"rule","encoding":{"x":{"field":"x2","type":"quantitative"}}},
{"mark":"rule","encoding":{"x":{"field":"x1","type":"quantitative"},"x2":{"field":"x2"},"y":{"field":"gy","type":"quantitative"}}},
{"mark":{"type":"text","align":"center","fontSize":8},"encoding":{"x":{"field":"gx","type":"quantitative"},"y":{"field":"gly","type":"quantitative"},"text":{"field":"gl"}}},
{"mark":{"type":"text","align":"right","fontSize":10},"encoding":{"x":{"field":"sx","type":"quantitative"},"y":{"field":"sy","type":"quantitative"},"text":{"field":"s"}}}
]}]},
{"width":148,"height":101,"layer":[
{"data":{"name":"hist"},"transform":[{"filter":"datum.p==='d3'"}],"mark":{"type":"area","clip":true,"color":"#c8c8c8","stroke":"#a8a8a8","strokeWidth":0.6},"encoding":{"x":{"field":"x","type":"quantitative","scale":{"type":"log","domain":[24,257000]},"axis":{"title":"530/30 BLUE-A","tickCount":200,"values":[20,30,40,50,60,70,80,90,100,200,300,400,500,600,700,800,900,1000,2000,3000,4000,5000,6000,7000,8000,9000,10000,20000,30000,40000,50000,60000,70000,80000,90000,100000,200000,300000,400000,500000],"labelExpr":"datum.value==100?'10²':datum.value==1000?'10³':datum.value==10000?'10⁴':datum.value==100000?'10⁵':''","tickSize":{"condition":{"test":"indexof([100,1000,10000,100000],datum.value)>=0","value":5},"value":3}}},"y":{"field":"c","type":"quantitative","scale":{"domain":[0,185]},"axis":{"title":"Count","tickCount":200,"values":[0,10,20,30,40,50,60,70,80,90,100,110,120,130,140,150,160,170,180,190,200,210,220,230,240,250,260,270,280,290,300,310,320,330,340,350,360,370,380],"labelExpr":"datum.value%50===0?datum.label:''","tickSize":{"condition":{"test":"datum.value%50===0","value":3},"value":2}}}}},
{"data":{"name":"gates"},"transform":[{"filter":"datum.p==='d3'"}],"layer":[
{"mark":"rule","encoding":{"x":{"field":"x1","type":"quantitative"}}},
{"mark":"rule","encoding":{"x":{"field":"x2","type":"quantitative"}}},
{"mark":"rule","encoding":{"x":{"field":"x1","type":"quantitative"},"x2":{"field":"x2"},"y":{"field":"gy","type":"quantitative"}}},
{"mark":{"type":"text","align":"center","fontSize":8},"encoding":{"x":{"field":"gx","type":"quantitative"},"y":{"field":"gly","type":"quantitative"},"text":{"field":"gl"}}},
{"mark":{"type":"text","align":"right","fontSize":10},"encoding":{"x":{"field":"sx","type":"quantitative"},"y":{"field":"sy","type":"quantitative"},"text":{"field":"s"}}}
]}]},
{"width":145,"height":101,"layer":[
{"data":{"name":"hist"},"transform":[{"filter":"datum.p==='d4'"}],"mark":{"type":"area","clip":true,"color":"#c8c8c8","stroke":"#a8a8a8","strokeWidth":0.6},"encoding":{"x":{"field":"x","type":"quantitative","scale":{"type":"log","domain":[28,257000]},"axis":{"title":"530/30 BLUE-A","tickCount":200,"values":[20,30,40,50,60,70,80,90,100,200,300,400,500,600,700,800,900,1000,2000,3000,4000,5000,6000,7000,8000,9000,10000,20000,30000,40000,50000,60000,70000,80000,90000,100000,200000,300000,400000,500000],"labelExpr":"datum.value==100?'10²':datum.value==1000?'10³':datum.value==10000?'10⁴':datum.value==100000?'10⁵':''","tickSize":{"condition":{"test":"indexof([100,1000,10000,100000],datum.value)>=0","value":5},"value":3}}},"y":{"field":"c","type":"quantitative","scale":{"domain":[0,224]},"axis":{"title":"Count","tickCount":200,"values":[0,10,20,30,40,50,60,70,80,90,100,110,120,130,140,150,160,170,180,190,200,210,220,230,240,250,260,270,280,290,300,310,320,330,340,350,360,370,380],"labelExpr":"datum.value%50===0?datum.label:''","tickSize":{"condition":{"test":"datum.value%50===0","value":3},"value":2}}}}},
{"data":{"name":"gates"},"transform":[{"filter":"datum.p==='d4'"}],"layer":[
{"mark":"rule","encoding":{"x":{"field":"x1","type":"quantitative"}}},
{"mark":"rule","encoding":{"x":{"field":"x2","type":"quantitative"}}},
{"mark":"rule","encoding":{"x":{"field":"x1","type":"quantitative"},"x2":{"field":"x2"},"y":{"field":"gy","type":"quantitative"}}},
{"mark":{"type":"text","align":"center","fontSize":8},"encoding":{"x":{"field":"gx","type":"quantitative"},"y":{"field":"gly","type":"quantitative"},"text":{"field":"gl"}}},
{"mark":{"type":"text","align":"right","fontSize":10},"encoding":{"x":{"field":"sx","type":"quantitative"},"y":{"field":"sy","type":"quantitative"},"text":{"field":"s"}}}
]}]}
]}
]}
],
"config":{
"view":{"stroke":"#222","strokeWidth":1},
"axis":{"domain":false,"grid":false,"labelFont":"Liberation Sans","labelFontSize":7,"labelColor":"#222","titleFont":"Liberation Sans","titleFontSize":9,"titleFontWeight":"normal","titleColor":"#222","tickColor":"#333","labelOverlap":false,"labelFlush":false,"labelPadding":1},
"axisY":{"labelAngle":270,"labelAlign":"center","labelBaseline":"alphabetic","labelFontSize":7.5,"labelPadding":0,"titleFontSize":10,"titlePadding":0},
"axisX":{"labelFontSize":8,"titlePadding":1},
"title":{"anchor":"start","fontSize":17,"fontWeight":"normal","font":"Liberation Sans","color":"#111","offset":0},
"rule":{"color":"#333","strokeWidth":1},
"text":{"font":"Liberation Sans","color":"#111","baseline":"middle"}
}
}
